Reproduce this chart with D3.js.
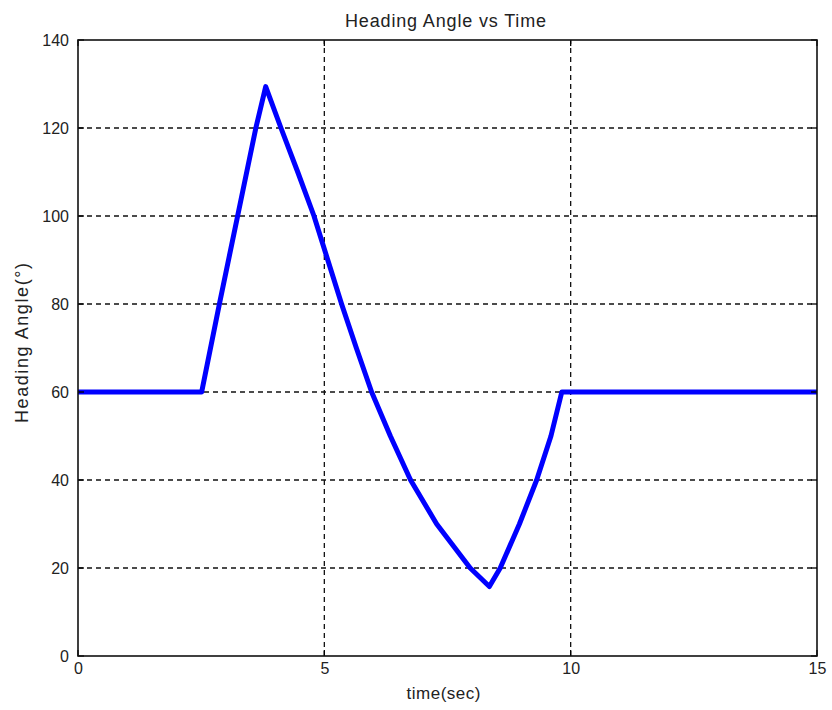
<!DOCTYPE html>
<html>
<head>
<meta charset="utf-8">
<script src="https://cdn.jsdelivr.net/npm/d3@7"></script>
<style>
  html, body { margin: 0; padding: 0; background: #fff; }
  svg { display: block; }
  text { font-family: "Liberation Sans", Arial, sans-serif; fill: #222; }
</style>
</head>
<body>
<svg id="chart" width="832" height="710"></svg>
<script>
// Heading angle trace (time in seconds, angle in degrees)
const timeSec = [0, 2.51, 2.87, 3.24, 3.61, 3.81, 4.12, 4.46, 4.79, 5.07, 5.35, 5.65, 5.96, 6.34, 6.75, 7.28, 7.96, 8.35, 8.57, 8.96, 9.31, 9.60, 9.82, 15];
const headingDeg = [60, 60, 80, 100, 120, 129.4, 120, 110, 100, 90, 80, 70, 60, 50, 40, 30, 20, 15.8, 20, 30, 40, 50, 60, 60];
const xTicks = [0, 5, 10, 15];
const yTicks = [0, 20, 40, 60, 80, 100, 120, 140];

const titleText = "Heading Angle vs Time";
const xLabelText = "time(sec)";
const yLabelText = "Heading Angle(°)";

const svg = d3.select("#chart");
const margin = { left: 78, right: 15, top: 40, bottom: 54 };
const W = 832, H = 710;
const x = d3.scaleLinear().domain([0, 15]).range([margin.left, W - margin.right]);
const y = d3.scaleLinear().domain([0, 140]).range([H - margin.bottom, margin.top]);

const dash = "5,4";

// dashed grid at the inner ticks
const grid = svg.append("g");
grid.selectAll("line.gx").data(xTicks.filter(t => t > 0 && t < 15)).join("line")
  .attr("x1", d => x(d)).attr("x2", d => x(d))
  .attr("y1", y(0)).attr("y2", y(140))
  .attr("stroke", "#111").attr("stroke-width", 1.3).attr("stroke-dasharray", dash);
grid.selectAll("line.gy").data(yTicks.filter(t => t > 0 && t < 140)).join("line")
  .attr("x1", x(0)).attr("x2", x(15))
  .attr("y1", d => y(d)).attr("y2", d => y(d))
  .attr("stroke", "#111").attr("stroke-width", 1.3).attr("stroke-dasharray", dash);

// data line
const line = d3.line().x((d, i) => x(timeSec[i])).y(d => y(d));
svg.append("path")
  .attr("d", line(headingDeg))
  .attr("fill", "none")
  .attr("stroke", "#0000ff")
  .attr("stroke-width", 5)
  .attr("stroke-linejoin", "round");

// axes
const xAxis = d3.axisBottom(x).tickValues(xTicks).tickSize(0).tickPadding(7).tickFormat(d3.format("d"));
const yAxis = d3.axisLeft(y).tickValues(yTicks).tickSize(0).tickPadding(9).tickFormat(d3.format("d"));
const gx = svg.append("g").attr("transform", `translate(0,${y(0)})`).call(xAxis);
const gy = svg.append("g").attr("transform", `translate(${x(0)},0)`).call(yAxis);
[gx, gy].forEach(g => {
  g.select(".domain").remove();
  g.selectAll("text").attr("font-size", 16)
    .style("font-family", '"Liberation Sans", Arial, sans-serif')
    .attr("fill", "#222");
});

// small inward ticks on all four sides
const tk = svg.append("g").attr("stroke", "#000").attr("stroke-width", 1.3);
xTicks.forEach(t => {
  tk.append("line").attr("x1", x(t)).attr("x2", x(t)).attr("y1", y(0)).attr("y2", y(0) - 6);
  tk.append("line").attr("x1", x(t)).attr("x2", x(t)).attr("y1", y(140)).attr("y2", y(140) + 6);
});
yTicks.forEach(t => {
  tk.append("line").attr("x1", x(0)).attr("x2", x(0) + 6).attr("y1", y(t)).attr("y2", y(t));
  tk.append("line").attr("x1", x(15)).attr("x2", x(15) - 6).attr("y1", y(t)).attr("y2", y(t));
});

// plot box
svg.append("rect")
  .attr("x", x(0)).attr("y", y(140))
  .attr("width", x(15) - x(0)).attr("height", y(0) - y(140))
  .attr("fill", "none").attr("stroke", "#111").attr("stroke-width", 1.6);

// title and axis labels
svg.append("text").attr("x", 445.5).attr("y", 27)
  .attr("text-anchor", "middle").attr("font-size", 18)
  .attr("textLength", 201).attr("lengthAdjust", "spacing").text(titleText);
svg.append("text").attr("x", 443.5).attr("y", 699)
  .attr("text-anchor", "middle").attr("font-size", 17)
  .attr("textLength", 74).attr("lengthAdjust", "spacing").text(xLabelText);
svg.append("text").attr("transform", `translate(28,343) rotate(-90)`)
  .attr("text-anchor", "middle").attr("font-size", 18)
  .attr("textLength", 160).attr("lengthAdjust", "spacing").text(yLabelText);
</script>
</body>
</html>
